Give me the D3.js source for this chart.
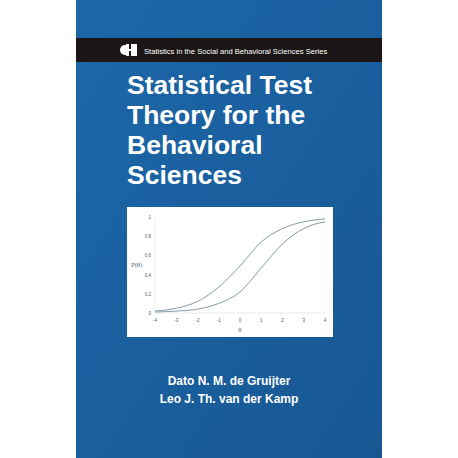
<!DOCTYPE html><html><head><script src="https://cdn.jsdelivr.net/npm/d3@7"></script>
<style>body{margin:0;background:#fff}</style></head><body><script>
const thetaTicks=[-4,-3,-2,-1,0,1,2,3,4];
const pTicks=[0,0.2,0.4,0.6,0.8,1];
const theta=[-4,-3,-2,-1,0,1,2,3,4];
const curveA=[0.02,0.05,0.12,0.27,0.49,0.74,0.88,0.95,0.98];
const curveB=[0.01,0.02,0.04,0.10,0.22,0.47,0.72,0.88,0.95];
const titleLines=["Statistical Test","Theory for the","Behavioral","Sciences"];
const authors=["Dato N. M. de Gruijter","Leo J. Th. van der Kamp"];
const series="Statistics in the Social and Behavioral Sciences Series";

const svg=d3.select("body").append("svg").attr("width",458).attr("height",458);
const defs=svg.append("defs");
const g=defs.append("linearGradient").attr("id","bg").attr("x1",0).attr("y1",0).attr("x2",1).attr("y2",1);
g.append("stop").attr("offset",0).attr("stop-color","#1d67a8");
g.append("stop").attr("offset",0.5).attr("stop-color","#1a5f9e");
g.append("stop").attr("offset",1).attr("stop-color","#175893");
svg.append("rect").attr("x",76).attr("y",0).attr("width",306).attr("height",458).attr("fill","url(#bg)");
svg.append("rect").attr("x",76).attr("y",38).attr("width",306).attr("height",24).attr("fill","#1a1716");
const lg=svg.append("g").attr("fill","#fff");
lg.append("circle").attr("cx",125).attr("cy",50).attr("r",5);
lg.append("rect").attr("x",126).attr("y",44).attr("width",11).attr("height",12);
lg.append("rect").attr("x",129).attr("y",44).attr("width",2).attr("height",5).attr("fill","#1a1716");
lg.append("rect").attr("x",129).attr("y",51).attr("width",2).attr("height",5).attr("fill","#1a1716");
svg.append("text").attr("x",144).attr("y",53.5).attr("fill","#fff").attr("font-family","Liberation Sans, Arial").attr("font-size",7.6).text(series);
svg.selectAll(".tl").data(titleLines).join("text").attr("x",127).attr("y",(d,i)=>94+i*30)
 .attr("fill","#fff").attr("font-family","Liberation Sans, Arial").attr("font-weight","bold").attr("font-size",26.5).text(d=>d);
svg.append("rect").attr("x",127).attr("y",207).attr("width",206).attr("height",130).attr("fill","#fff");
const x=d3.scaleLinear().domain([-4,4]).range([155,325]);
const y=d3.scaleLinear().domain([0,1]).range([313,217]);
const font="Liberation Sans, Arial";
svg.append("line").attr("x1",155).attr("x2",155).attr("y1",217).attr("y2",313).attr("stroke","#d8e0e4").attr("stroke-width",0.6);
svg.append("line").attr("x1",155).attr("x2",325).attr("y1",313).attr("y2",313).attr("stroke","#d8e0e4").attr("stroke-width",0.6);
svg.selectAll(".yt").data(pTicks).join("text").attr("x",151).attr("y",d=>y(d)+2).attr("text-anchor","end")
 .attr("font-family",font).attr("font-size",4.5).attr("fill","#4a5a66").text(d=>d);
svg.selectAll(".xt").data(thetaTicks).join("text").attr("x",d=>x(d)).attr("y",322).attr("text-anchor","middle")
 .attr("font-family",font).attr("font-size",4.5).attr("fill","#4a5a66").text(d=>d);
svg.append("text").attr("x",240).attr("y",332).attr("text-anchor","middle").attr("font-family","DejaVu Serif").attr("font-size",5.5).attr("fill","#4a5a66").text("θ");
svg.append("text").attr("x",131).attr("y",267).attr("font-family","DejaVu Serif").attr("font-size",5.5).attr("fill","#4a5a66").text("P(θ)");
const line=d3.line().x((d,i)=>x(theta[i])).y(d=>y(d)).curve(d3.curveMonotoneX);
[curveA,curveB].forEach(c=>svg.append("path").attr("d",line(c)).attr("fill","none").attr("stroke","#7a8e98").attr("stroke-width",0.9));
svg.selectAll(".au").data(authors).join("text").attr("x",229).attr("y",(d,i)=>385+i*18).attr("text-anchor","middle")
 .attr("fill","#fff").attr("font-family",font).attr("font-weight","bold").attr("font-size",12).text(d=>d);
</script></body></html>
